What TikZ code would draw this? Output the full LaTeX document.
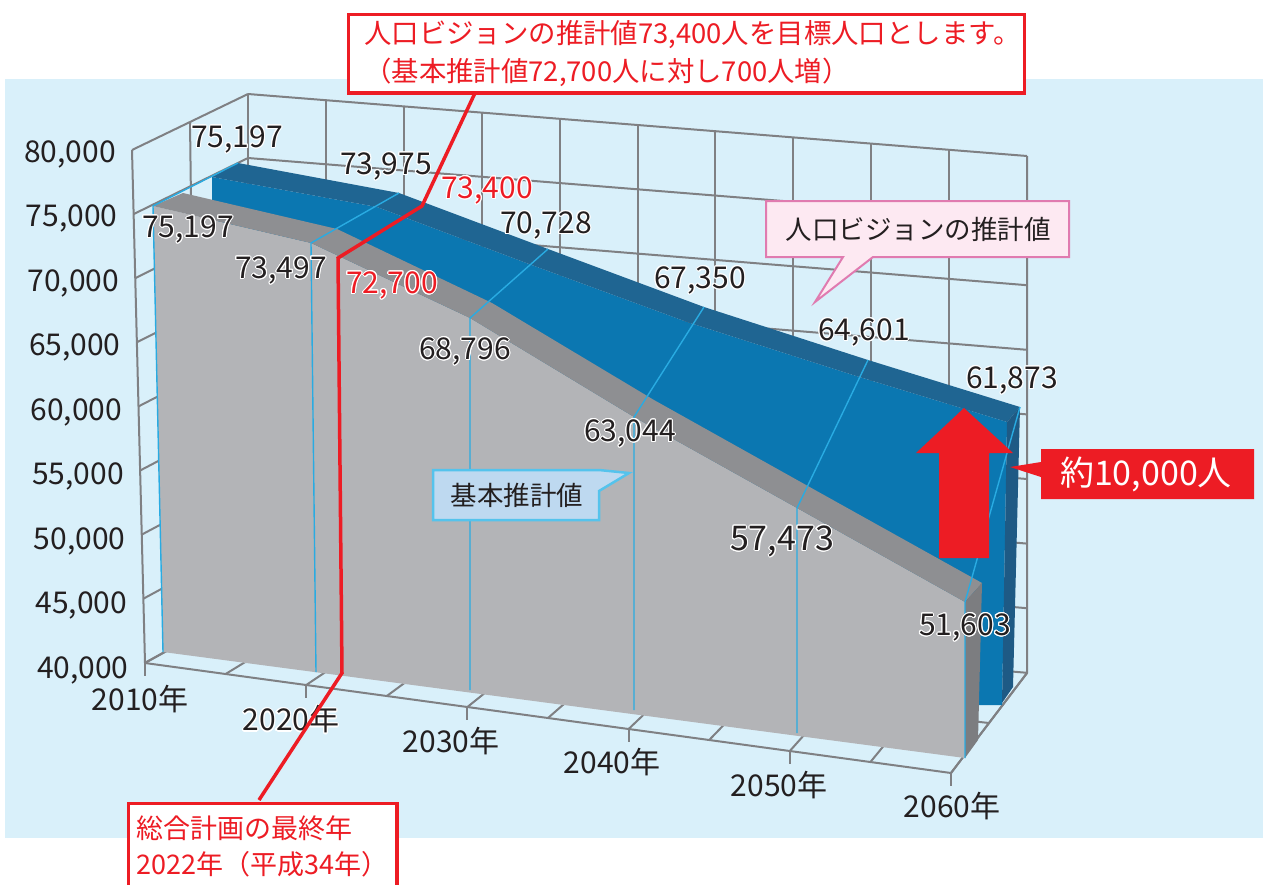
\documentclass[tikz,border=0pt]{standalone}
\usepackage{fontspec}
\usepackage{contour}
\newfontfamily\jp{Noto Sans CJK JP}
\contourlength{1.1pt}
\contournumber{16}
\definecolor{bgC}{HTML}{D9F0FA}
\definecolor{frameC}{HTML}{7F8083}
\definecolor{cyanC}{HTML}{29ABE2}
\definecolor{redC}{HTML}{ED1C24}
\definecolor{bFront}{HTML}{0B77B1}
\definecolor{bTop}{HTML}{1F6592}
\definecolor{bSide}{HTML}{1E5A85}
\definecolor{gFront}{HTML}{B3B4B7}
\definecolor{gTop}{HTML}{8E8F92}
\definecolor{gSide}{HTML}{7C7D80}
\definecolor{txtC}{HTML}{231F20}
\definecolor{pinkFill}{HTML}{FDE9F2}
\definecolor{pinkLine}{HTML}{E07BB0}
\definecolor{lbFill}{HTML}{BED9F0}
\definecolor{lbLine}{HTML}{55C3EC}
\newcommand\fsz[1]{\fontsize{#1}{#1}\selectfont}
\begin{document}
\begin{tikzpicture}[x=1pt,y=-1pt,
  gridln/.style={draw=frameC, line width=2pt},
  cyanln/.style={draw=cyanC, line width=1.4pt},
  redln/.style={draw=redC, line width=3.5pt, line join=miter},
  axlbl/.style={font=\jp\fsz{30}, text=txtC, inner sep=0pt, anchor=east},
  xlbl/.style={font=\jp\fsz{30}, text=txtC, inner sep=0pt},
  dlbl/.style={font=\jp\fsz{30}, text=txtC, inner sep=0pt},
  rlbl/.style={font=\jp\fsz{30}, text=redC, inner sep=0pt},
  ctext/.style={font=\jp\fsz{27.4}, inner sep=0pt},
  redbox/.style={draw=redC, line width=3.5pt, fill=white, inner sep=0pt, anchor=north west}
]
\useasboundingbox (0,0) rectangle (1263,884);
% background
\fill[bgC] (5,79) rectangle (1263,838);
% back wall verticals
\foreach \k in {0,...,10} {
  \draw[gridln] ({248+77.9*\k},{94+6.2*\k}) -- ({248+77.9*\k},{606+6.7*\k});
}
% back wall horizontals
\foreach \j in {0,...,8} {
  \draw[gridln] (248,{94+64*\j}) -- (1027,{156+64.6*\j});
}
% left wall
\foreach \j in {0,...,8} {
  \draw[gridln] ({132+1.625*\j},{150+64.1*\j}) -- (248,{94+64*\j});
}
\draw[gridln] (190,122) -- (196.5,634.5);
\draw[gridln] (132,150) -- (145,663);
% floor
\foreach \k in {0,...,10} {
  \draw[gridln] ({145+80.6*\k},{663+11*\k}) -- ({248+77.9*\k},{606+6.7*\k});
}
\foreach \k in {0,2,...,10} {
  \draw[gridln] ({145+80.6*\k},{663+11*\k}) -- ++(0,13);
}
\draw[gridln] (196.5,634.5) -- (989,723);
\draw[gridln] (145,663) -- (951,773) -- (1027,673) -- (1027,156);
% blue series
\fill[bFront] (212,177) -- (377,207) -- (529,264) -- (687,322) -- (853,375) -- (1007,422) -- (1002,705) -- (975,705) -- (212,600) -- cycle;
\fill[bTop] (212,177) -- (238,163) -- (399,193) -- (548,249) -- (704,307) -- (868,360) -- (1020,407) -- (1007,422) -- (853,375) -- (687,322) -- (529,264) -- (377,207) -- cycle;
\fill[bSide] (1007,422) -- (1020,407) -- (1013,687) -- (1002,703) -- cycle;
% gray series
\fill[gFront] (153,206) -- (311,243) -- (470,318) -- (634,417) -- (797,508) -- (965,602) -- (965,758) -- (163,652) -- cycle;
\fill[gTop] (153,206) -- (183,193) -- (337,229) -- (492,303) -- (654,400) -- (815,490) -- (982,583) -- (965,602) -- (797,508) -- (634,417) -- (470,318) -- (311,243) -- cycle;
\fill[gSide] (965,602) -- (982,583) -- (978,740) -- (965,758) -- cycle;
% cyan drop lines
\foreach \xa/\ya/\xb/\yb/\xc/\yc in {153/206/163/652/238/163, 311/243/316/672/399/193, 470/318/470/690/548/249, 634/417/634/710/704/307, 797/508/797/733/868/360, 965/602/965/758/1020/407} {
  \draw[cyanln] (\xb,\yb) -- (\xa,\ya) -- (\xc,\yc);
}
% y-axis labels
\foreach \k/\v in {0/{80,000},1/{75,000},2/{70,000},3/{65,000},4/{60,000},5/{55,000},6/{50,000},7/{45,000},8/{40,000}} {
  \node[axlbl] (y\k) at ({116+1.6*\k},{154+64.5*\k}) {\v};
}
% x-axis labels
\node[xlbl] (x2010) at (140,699) {2010年};
\node[xlbl] (x2020) at (291,720) {\contour{white}{2020年}};
\node[xlbl] (x2030) at (451,741) {2030年};
\node[xlbl] (x2040) at (612,762) {2040年};
\node[xlbl] (x2050) at (779,785) {2050年};
\node[xlbl] (x2060) at (952,806) {2060年};
% red arrow
\fill[redC] (939,558) -- (939,453) -- (916,453) -- (964,408) -- (1013,453) -- (989,453) -- (989,558) -- cycle;
% red leader lines
\coordinate (r0) at (475,93);
\coordinate (r1) at (422,206);
\coordinate (r2) at (338,258);
\coordinate (r3) at (342,673);
\coordinate (r4) at (259,800);
\draw[redln] (r0) -- (r1) -- (r2) -- (r3) -- (r4);
% data labels
\node[dlbl] (b2010) at (237,140) {\contour{white}{75,197}};
\node[dlbl] (b2020) at (386,167) {\contour{white}{73,975}};
\node[dlbl] (b2030) at (546,226) {\contour{white}{70,728}};
\node[dlbl] (b2040) at (700,281) {\contour{white}{67,350}};
\node[dlbl] (b2050) at (864,333) {\contour{white}{64,601}};
\node[dlbl] (b2060) at (1012,381) {\contour{white}{61,873}};
\node[dlbl] (g2010) at (188,230) {\contour{white}{75,197}};
\node[dlbl] (g2020) at (281,271) {\contour{white}{73,497}};
\node[dlbl] (g2030) at (465,352) {\contour{white}{68,796}};
\node[dlbl] (g2040) at (630,434) {\contour{white}{63,044}};
\node[dlbl, font=\jp\fsz{34}] (g2050) at (782,542) {\contour{white}{57,473}};
\node[dlbl] (g2060) at (965,628) {\contour{white}{51,603}};
\node[rlbl] (v2022) at (487,191) {\contour{white}{73,400}};
\node[rlbl] (k2022) at (392,286) {\contour{white}{72,700}};
% top callout
\node[redbox, minimum width=676pt, minimum height=78.5pt] (topbox) at (346.75,12.75) {};
\node[ctext, text=redC, anchor=west] (top1) at (364,35) {人口ビジョンの推計値73,400人を目標人口とします。};
\node[ctext, text=redC, anchor=west] (top2) at (364,72) {（基本推計値72,700人に対し700人増）};
% bottom callout
\node[redbox, minimum width=268.5pt, minimum height=100pt] (botbox) at (126.75,801.75) {};
\node[ctext, font=\jp\fsz{27}, text=redC, anchor=west] (bot1) at (136,828) {総合計画の最終年};
\node[ctext, font=\jp\fsz{27}, text=redC, anchor=west] (bot2) at (136,864) {2022年（平成34年）};
% pink callout
\draw[pinkLine, fill=pinkFill, line width=2pt] (766,201) -- (1069,201) -- (1069,257) -- (873,257) -- (815,302) -- (843,257) -- (766,257) -- cycle;
\node[ctext, font=\jp\fsz{26.5}, text=txtC] (pinklbl) at (918,229) {人口ビジョンの推計値};
% light blue callout
\draw[lbLine, fill=lbFill, line width=2.5pt] (433,470) -- (599,470) -- (629,473) -- (599,491) -- (599,520) -- (433,520) -- cycle;
\node[ctext, font=\jp\fsz{26.5}, text=txtC] (bluelbl) at (517,495) {基本推計値};
% red tag
\fill[redC] (1041,449) -- (1254,449) -- (1254,499) -- (1041,499) -- (1041,477) -- (1010,467) -- (1041,462) -- cycle;
\node[ctext, font=\jp\fsz{34}, text=white] (tag) at (1146,474) {約10,000人};
\end{tikzpicture}
\end{document}
